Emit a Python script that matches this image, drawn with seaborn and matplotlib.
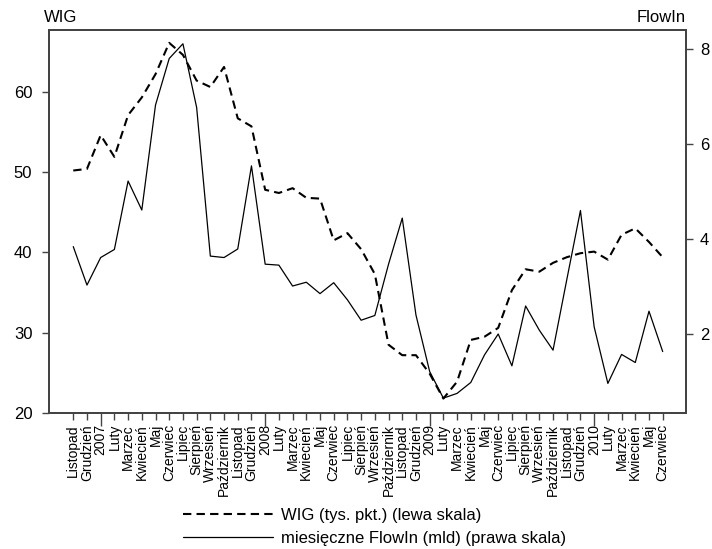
import matplotlib
matplotlib.use("Agg")
import pandas as pd
import seaborn as sns
import matplotlib.pyplot as plt
from matplotlib.lines import Line2D

# Monthly labels, Nov 2006 - Jun 2010
months = ['Listopad', 'Grudzień',
          '2007', 'Luty', 'Marzec', 'Kwiecień', 'Maj', 'Czerwiec', 'Lipiec',
          'Sierpień', 'Wrzesień', 'Październik', 'Listopad', 'Grudzień',
          '2008', 'Luty', 'Marzec', 'Kwiecień', 'Maj', 'Czerwiec', 'Lipiec',
          'Sierpień', 'Wrzesień', 'Październik', 'Listopad', 'Grudzień',
          '2009', 'Luty', 'Marzec', 'Kwiecień', 'Maj', 'Czerwiec', 'Lipiec',
          'Sierpień', 'Wrzesień', 'Październik', 'Listopad', 'Grudzień',
          '2010', 'Luty', 'Marzec', 'Kwiecień', 'Maj', 'Czerwiec']

# WIG index, thousands of points (left scale)
wig = [50.2, 50.4, 54.6, 51.9, 57.1, 59.3, 62.2, 66.1, 64.6, 61.4, 60.6, 63.1,
       56.7, 55.7, 47.8, 47.4, 48.0, 46.8, 46.7, 41.5, 42.4, 40.4, 37.3, 28.5,
       27.2, 27.2, 24.9, 21.8, 23.9, 29.1, 29.5, 30.6, 35.3, 37.9, 37.6, 38.7,
       39.4, 39.9, 40.1, 39.1, 42.2, 43.0, 41.3, 39.4]

# monthly FlowIn, bn (right scale)
flowin = [3.84, 3.03, 3.61, 3.78, 5.22, 4.61, 6.82, 7.80, 8.11, 6.77, 3.64, 3.61,
          3.79, 5.54, 3.47, 3.45, 3.01, 3.09, 2.85, 3.08, 2.72, 2.29, 2.39, 3.47,
          4.44, 2.40, 1.21, 0.65, 0.75, 0.98, 1.56, 2.00, 1.33, 2.59, 2.08, 1.66,
          3.14, 4.60, 2.15, 0.96, 1.57, 1.40, 2.48, 1.63]

df = pd.DataFrame({'idx': range(len(months)), 'wig': wig, 'flowin': flowin})

sns.set_style('ticks')
plt.rcParams['font.family'] = ['Liberation Sans', 'DejaVu Sans']
plt.rcParams['text.color'] = 'black'
plt.rcParams['xtick.labelcolor'] = 'black'
plt.rcParams['ytick.labelcolor'] = 'black'

fig = plt.figure(figsize=(7.12, 5.49), dpi=100)
ax = fig.add_axes([49/712, 1-413/549, (686-49)/712, (413-30)/549])
ax2 = ax.twinx()

sns.lineplot(data=df, x='idx', y='wig', ax=ax, color='black', lw=1.5,
             linestyle=(0, (4, 2.5)))
sns.lineplot(data=df, x='idx', y='flowin', ax=ax2, color='black', lw=0.9)

ax.set_xlim(-1.77, 44.7)
ax.set_ylim(20, 67.7)
ax2.set_ylim(0.337, 8.4)
ax.set_yticks([20, 30, 40, 50, 60])
ax2.set_yticks([2, 4, 6, 8])
ax.set_xticks(range(len(months)))
ax.set_xticklabels(months, rotation=90, fontsize=10, va='top', ha='center')
ax.set_xlabel('')
ax.set_ylabel('')
ax2.set_ylabel('')

spine_c = '#444444'
for a in (ax, ax2):
    for s in a.spines.values():
        s.set_visible(True)
        s.set_color(spine_c)
        s.set_linewidth(1.4)
ax.tick_params(axis='y', labelsize=12, length=5, width=1, color=spine_c, pad=7)
ax2.tick_params(axis='y', labelsize=12, length=5, width=1, color=spine_c, pad=5)
ax.tick_params(axis='x', length=5, width=1, color=spine_c, pad=3)

for i, lab in enumerate(months):
    if lab.isdigit():
        ax.xaxis.get_major_ticks()[i].tick1line.set_markersize(9)

ax.text(-0.008, 1.012, 'WIG', transform=ax.transAxes, fontsize=12,
        ha='left', va='bottom')
ax2.text(1.0, 1.012, 'FlowIn', transform=ax2.transAxes, fontsize=12,
         ha='right', va='bottom')

handles = [Line2D([], [], color='black', lw=1.5, linestyle=(0, (4, 2.5))),
           Line2D([], [], color='black', lw=0.9)]
labels = ['WIG (tys. pkt.) (lewa skala)', 'miesięczne FlowIn (mld) (prawa skala)']
fig.legend(handles, labels, loc='upper left', bbox_to_anchor=(183/712, 1-508/549),
           frameon=False, fontsize=12, handlelength=5.4, handletextpad=0.5,
           borderpad=0, borderaxespad=0, labelspacing=0.5)

fig.savefig('out.png', dpi=100)
